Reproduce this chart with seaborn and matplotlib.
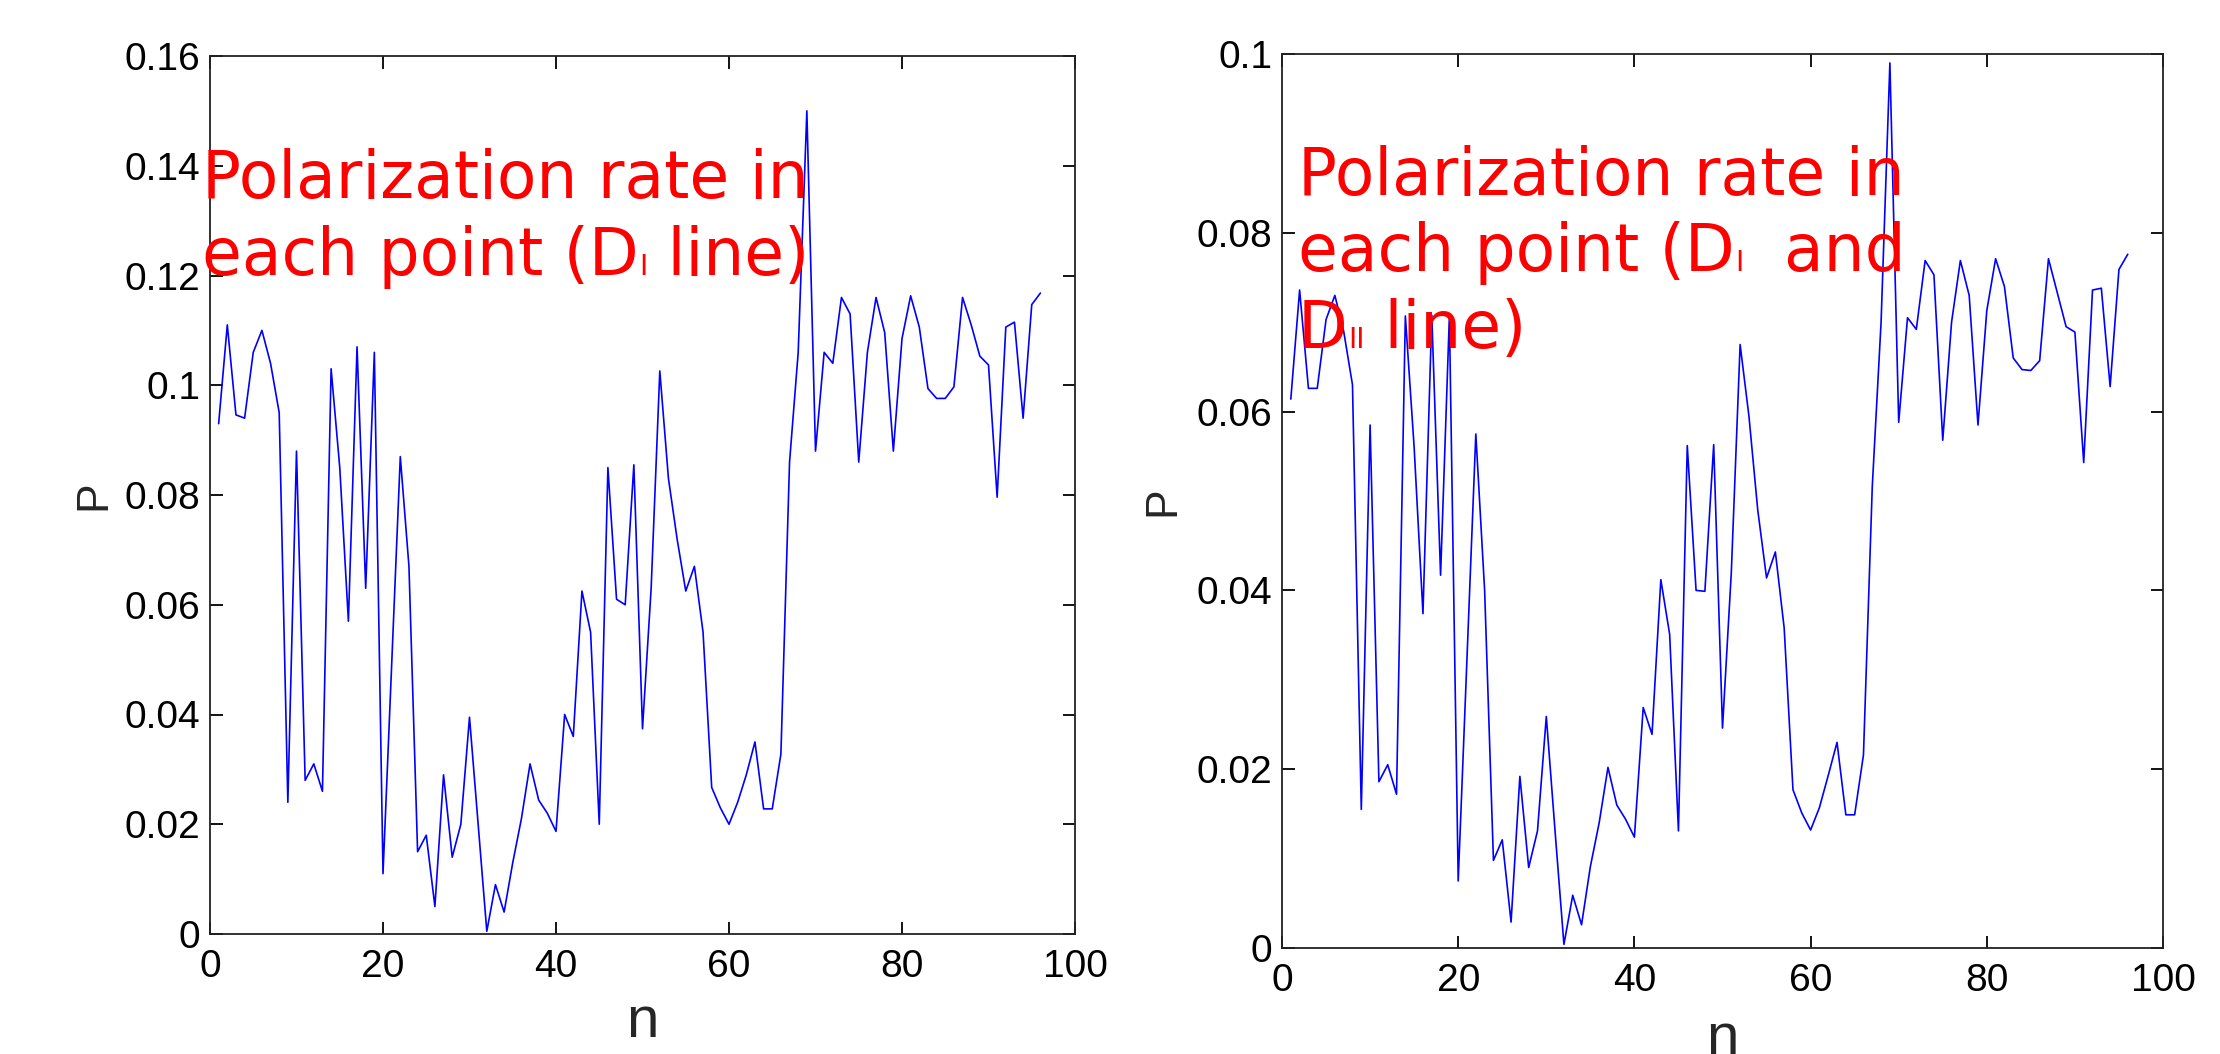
import matplotlib
matplotlib.use("Agg")
import matplotlib.pyplot as plt
import seaborn as sns
import pandas as pd

# ==========================
# Data
# ==========================
n = list(range(1, 97))

# left panel: D1 line
p_d1 = [0.093, 0.111, 0.0946, 0.094, 0.106, 0.110, 0.104, 0.095, 0.024, 0.088,
        0.028, 0.031, 0.026, 0.103, 0.085, 0.057, 0.107, 0.063, 0.106, 0.011,
        0.049, 0.087, 0.067, 0.015, 0.018, 0.005, 0.029, 0.014, 0.020, 0.0395,
        0.020, 0.0005, 0.009, 0.004, 0.013, 0.021, 0.031, 0.0244, 0.022, 0.0187,
        0.040, 0.036, 0.0625, 0.055, 0.020, 0.085, 0.061, 0.060, 0.0855, 0.0374,
        0.063, 0.1026, 0.083, 0.072, 0.0625, 0.067, 0.055, 0.0267, 0.023, 0.020,
        0.024, 0.029, 0.035, 0.0228, 0.0228, 0.0328, 0.086, 0.106, 0.150, 0.088,
        0.106, 0.104, 0.116, 0.113, 0.086, 0.106, 0.116, 0.1096, 0.088, 0.1085,
        0.1163, 0.1106, 0.0994, 0.0976, 0.0976, 0.0997, 0.116, 0.111, 0.1053, 0.1037,
        0.0796, 0.1106, 0.1115, 0.094, 0.1147, 0.1168]

# right panel: D1 and D2 lines
p_d1_d2 = [0.0614, 0.0736, 0.0626, 0.0626, 0.0703, 0.073, 0.069, 0.063, 0.0155, 0.0585,
           0.0186, 0.0205, 0.0172, 0.0707, 0.056, 0.0374, 0.0708, 0.0417, 0.0707, 0.0075,
           0.0325, 0.0575, 0.040, 0.0098, 0.0121, 0.0029, 0.0192, 0.009, 0.0131, 0.0259,
           0.013, 0.0004, 0.0059, 0.0026, 0.0091, 0.014, 0.0202, 0.016, 0.0144, 0.0124,
           0.0269, 0.0239, 0.0412, 0.0351, 0.0131, 0.0562, 0.040, 0.0399, 0.0563, 0.0246,
           0.042, 0.0675, 0.0595, 0.049, 0.0414, 0.0443, 0.0358, 0.0177, 0.0151, 0.0132,
           0.0157, 0.0193, 0.023, 0.0149, 0.0149, 0.0216, 0.0516, 0.070, 0.099, 0.0588,
           0.0705, 0.0692, 0.0769, 0.0753, 0.0568, 0.070, 0.0769, 0.073, 0.0585, 0.0713,
           0.0771, 0.074, 0.066, 0.0647, 0.0646, 0.0657, 0.0771, 0.0733, 0.0695, 0.0689,
           0.0543, 0.0736, 0.0738, 0.0628, 0.0759, 0.0776]

x_ticks = [0, 20, 40, 60, 80, 100]
left_yticks = [0, 0.02, 0.04, 0.06, 0.08, 0.1, 0.12, 0.14, 0.16]
left_ylabels = ["0", "0.02", "0.04", "0.06", "0.08", "0.1", "0.12", "0.14", "0.16"]
right_yticks = [0, 0.02, 0.04, 0.06, 0.08, 0.1]
right_ylabels = ["0", "0.02", "0.04", "0.06", "0.08", "0.1"]

# red notes: (text, fontsize) pieces per line, small "I" drawn smaller
left_note = [[("Polarization rate in", 46.5)],
             [("each point (D", 46.5), ("I", 20), (" line)", 46.5)]]
right_note = [[("Polarization rate in", 46.5)],
              [("each point (D", 46.5), ("I", 20), ("  and", 46.5)],
              [("D", 46.5), ("II", 20), (" line)", 46.5)]]

df = pd.DataFrame({"n": n, "P1": p_d1, "P2": p_d1_d2})

# ==========================
# Style
# ==========================
sns.set_style("ticks")
plt.rcParams["font.family"] = ["Liberation Sans", "DejaVu Sans"]

W, H = 2220, 1054
fig = plt.figure(figsize=(W / 100, H / 100), dpi=100)
ax1 = fig.add_axes([210 / W, 1 - 934 / H, 865 / W, 878 / H])
ax2 = fig.add_axes([1282 / W, 1 - 948 / H, 881 / W, 894 / H])


def style_axis(ax, yticks, ylabels, ymax):
    ax.set_xlim(0, 100)
    ax.set_ylim(0, ymax)
    ax.set_xticks(x_ticks)
    ax.set_xticklabels([str(t) for t in x_ticks])
    ax.set_yticks(yticks)
    ax.set_yticklabels(ylabels)
    for s in ax.spines.values():
        s.set_visible(True)
        s.set_linewidth(1.3)
        s.set_color("#222222")
    ax.tick_params(direction="in", top=True, right=True, length=9, width=1.3,
                   labelsize=28, colors="black")
    ax.tick_params(axis="x", pad=11)
    ax.tick_params(axis="y", pad=7)
    ax.set_xlabel("n", fontsize=42)
    ax.set_ylabel("P", fontsize=32)


sns.lineplot(data=df, x="n", y="P1", ax=ax1, color="#0000ff", linewidth=1.2)
style_axis(ax1, left_yticks, left_ylabels, 0.16)
ax1.yaxis.set_label_coords(-0.11, 0.5)
ax1.xaxis.set_label_coords(0.5, -0.07)

sns.lineplot(data=df, x="n", y="P2", ax=ax2, color="#0000ff", linewidth=1.2)
style_axis(ax2, right_yticks, right_ylabels, 0.1)
ax2.yaxis.set_label_coords(-0.112, 0.5)
ax2.xaxis.set_label_coords(0.5, -0.072)

# ==========================
# Red notes, piece by piece on a shared baseline
# ==========================
renderer = fig.canvas.get_renderer()


def red_note(x0, baselines, lines):
    for yb, parts in zip(baselines, lines):
        x = x0
        for s, fs in parts:
            t = fig.text(x / W, 1 - yb / H, s, color="red", fontsize=fs,
                         family="DejaVu Sans", ha="left", va="baseline")
            x = t.get_window_extent(renderer).x1


red_note(202, [198, 275], left_note)
red_note(1298, [195, 271, 348], right_note)

fig.savefig("out.png", dpi=100)
